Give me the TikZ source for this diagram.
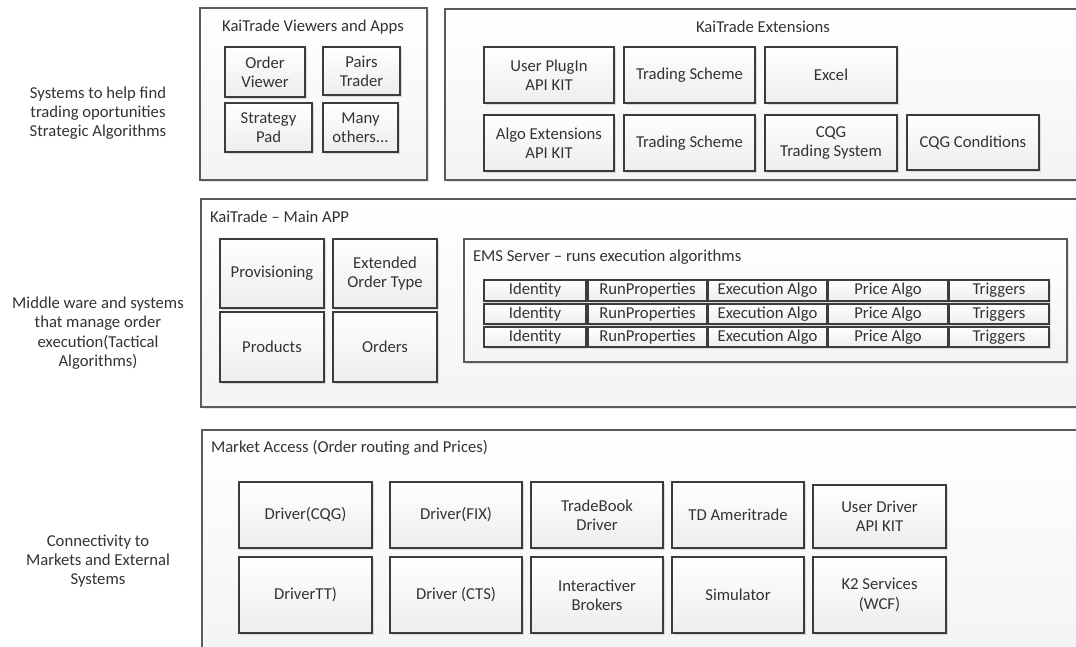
\documentclass[tikz,border=0pt]{standalone}
\usepackage{fontspec}
\setmainfont{Carlito}
\usetikzlibrary{shadows}
\definecolor{obord}{HTML}{5A5A5A}
\definecolor{ibord}{HTML}{3C3C3C}
\definecolor{txt}{HTML}{333333}
\tikzset{
  base/.style={inner sep=0pt, outer sep=0pt, text=txt, font=\fontsize{12.5}{14.5}\selectfont, align=center},
  obox/.style={base, draw=obord, line width=0.9pt, top color=white, bottom color=gray!9,
    drop shadow={opacity=0.2, shadow xshift=1.2pt, shadow yshift=-1.2pt}},
  ibox/.style={base, draw=ibord, line width=1.1pt, top color=white, bottom color=gray!14,
    drop shadow={opacity=0.25, shadow xshift=1.2pt, shadow yshift=-1.2pt}},
  cbox/.style={ibox, line width=1pt},
  ttl/.style={base, anchor=west},
  ctl/.style={base},
  lbl/.style={base, align=center},
}
\newcommand\bx[7][ibox]{\node[#1, minimum width={(#5-#3)*0.75pt}, minimum height={(#6-#4)*0.75pt}] (#2) at ({(#3+#5)/2},{(#4+#6)/2}) {#7};}
\begin{document}
\begin{tikzpicture}[x=0.75pt, y=-0.75pt]
\useasboundingbox (0,0) rectangle (1076,647);
\clip (0,0) rectangle (1076,647);
\fill[white] (0,0) rectangle (1076,647);

% outer boxes
\bx[obox]{vwr}{200}{8}{427}{180}{}
\bx[obox]{ext}{445}{9}{1082}{180}{}
\bx[obox]{app}{201}{199}{1082}{407}{}
\bx[obox]{mkt}{202}{430}{1082}{660}{}

% titles
\node[ctl] (vwrt) at (313,27) {KaiTrade Viewers and Apps};
\node[ctl] (extt) at (763,27) {KaiTrade Extensions};
\node[ttl] (appt) at (210,217) {KaiTrade – Main APP};
\node[ttl] (mktt) at (211,448) {Market Access (Order routing and Prices)};

% left labels
\node[lbl] (l1) at (98,113) {Systems to help find\\trading oportunities\\Strategic Algorithms};
\node[lbl] (l2) at (98,333) {Middle ware and systems\\that manage order\\execution(Tactical\\Algorithms)};
\node[lbl] (l3) at (98,561) {Connectivity to\\Markets and External\\Systems};

% viewers
\bx{ov}{225}{47}{305}{97}{Order\\Viewer}
\bx{pt}{323}{47}{400}{95}{Pairs\\Trader}
\bx{sp}{225}{103}{312}{152}{Strategy\\Pad}
\bx{mo}{323}{103}{398}{152}{Many\\others...}

% extensions
\bx{up}{484}{47}{614}{103}{User PlugIn\\API KIT}
\bx{ts1}{624}{47}{755}{103}{Trading Scheme}
\bx{xl}{765}{47}{897}{103}{Excel}
\bx{ae}{484}{115}{614}{171}{Algo Extensions\\API KIT}
\bx{ts2}{624}{115}{755}{171}{Trading Scheme}
\bx{cqgts}{765}{115}{897}{171}{CQG\\Trading System}
\bx{cqgc}{907}{115}{1039}{170}{CQG Conditions}

% main app
\bx{prov}{220}{239}{324}{308}{Provisioning}
\bx{eot}{333}{239}{437}{308}{Extended\\Order Type}
\bx{prod}{220}{312}{324}{382}{Products}
\bx{ord}{333}{312}{437}{382}{Orders}

% EMS
\bx[obox]{ems}{464}{239}{1067}{362}{}
\node[ttl] (emst) at (473,257) {EMS Server – runs execution algorithms};
\foreach \r/\ya/\yb in {1/280/301, 2/304/324, 3/327/347} {
  \bx[cbox]{id\r}{484}{\ya}{586}{\yb}{Identity}
  \bx[cbox]{rp\r}{588}{\ya}{707}{\yb}{RunProperties}
  \bx[cbox]{ea\r}{708}{\ya}{827}{\yb}{Execution Algo}
  \bx[cbox]{pa\r}{828}{\ya}{948}{\yb}{Price Algo}
  \bx[cbox]{tr\r}{949}{\ya}{1049}{\yb}{Triggers}
}

% market access
\bx{dcqg}{239}{482}{372}{548}{Driver(CQG)}
\bx{dfix}{390}{482}{522}{548}{Driver(FIX)}
\bx{tbd}{531}{482}{663}{548}{TradeBook\\Driver}
\bx{tda}{672}{482}{804}{548}{TD Ameritrade}
\bx{udk}{813}{485}{946}{548}{User Driver\\API KIT}
\bx{dtt}{239}{557}{372}{633}{DriverTT)}
\bx{dcts}{390}{557}{522}{633}{Driver (CTS)}
\bx{ib}{531}{557}{663}{633}{Interactiver\\Brokers}
\bx{sim}{672}{557}{804}{633}{Simulator}
\bx{k2}{813}{557}{946}{633}{K2 Services\\(WCF)}
\end{tikzpicture}
\end{document}
